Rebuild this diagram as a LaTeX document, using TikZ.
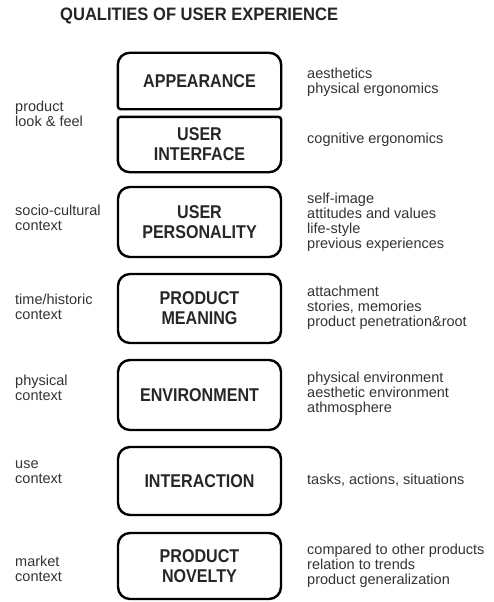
\documentclass[tikz,border=0pt]{standalone}
\usepackage{fontspec}
\setmainfont{Liberation Sans}
\newfontfamily\condfont{Liberation Sans}[FakeStretch=0.87]
\newfontfamily\titlefont{Liberation Sans}[FakeStretch=0.92]
\begin{document}
\begin{tikzpicture}[x=1pt,y=-1pt,
  qbox/.style={draw=black, line width=2.4pt, rounded corners=12pt, minimum width=163pt,
    align=center, font=\condfont\fontsize{18.5}{20}\selectfont\bfseries, text=black!85, inner sep=0pt},
  qtext/.style={draw=none, rounded corners=0pt, minimum width=163pt, align=center,
    font=\condfont\fontsize{18.5}{20}\selectfont\bfseries, text=black!85, inner sep=0pt},
  side/.style={anchor=west, align=left, font=\fontsize{14.5}{15}\selectfont, text=black!80, inner sep=0pt},
  edge/.style={draw=black, line width=2.4pt}]
\useasboundingbox (0,0) rectangle (494,602);
\node[font=\titlefont\fontsize{18}{20}\selectfont\bfseries, text=black!85, anchor=west, inner sep=0pt] (title) at (60,16) {QUALITIES OF USER EXPERIENCE};
% combined appearance / user interface
\node[qtext, minimum height=56pt] (app) at (199.5,81) {APPEARANCE};
\node[qtext, minimum height=55pt] (ui) at (199.5,144.5) {USER\\INTERFACE};
\draw[edge] (app.south) [rounded corners=3pt] -- (app.south west) [rounded corners=12pt] -- (app.north west) -- (app.north east) [rounded corners=3pt] -- (app.south east) -- cycle;
\draw[edge] (ui.north) [rounded corners=3pt] -- (ui.north west) [rounded corners=12pt] -- (ui.south west) -- (ui.south east) [rounded corners=3pt] -- (ui.north east) -- cycle;
\node[qbox, minimum height=70pt] (pers) at (199.5,222) {USER\\PERSONALITY};
\node[qbox, minimum height=69pt] (mean) at (199.5,308.5) {PRODUCT\\MEANING};
\node[qbox, minimum height=70pt] (env) at (199.5,395) {ENVIRONMENT};
\node[qbox, minimum height=68pt] (inter) at (199.5,481) {INTERACTION};
\node[qbox, minimum height=66pt] (nov) at (199.5,566) {PRODUCT\\NOVELTY};
% left labels
\node[side] (l1) at (15,114) {product\\look \& feel};
\node[side] (l2) at (15,218) {socio-cultural\\context};
\node[side] (l3) at (15,307) {time/historic\\context};
\node[side] (l4) at (15,388) {physical\\context};
\node[side] (l5) at (15,472) {use\\context};
\node[side] (l6) at (15,569) {market\\context};
% right labels
\node[side] (r1) at (307,82) {aesthetics\\physical ergonomics};
\node[side] (r2) at (307,140) {cognitive ergonomics};
\node[side] (r3) at (307,222) {self-image\\attitudes and values\\life-style\\previous experiences};
\node[side] (r4) at (307,308) {attachment\\stories, memories\\product penetration\&root};
\node[side] (r5) at (307,394) {physical environment\\aesthetic environment\\athmosphere};
\node[side] (r6) at (307,480) {tasks, actions, situations};
\node[side] (r7) at (307,566) {compared to other products\\relation to trends\\product generalization};
\end{tikzpicture}
\end{document}
